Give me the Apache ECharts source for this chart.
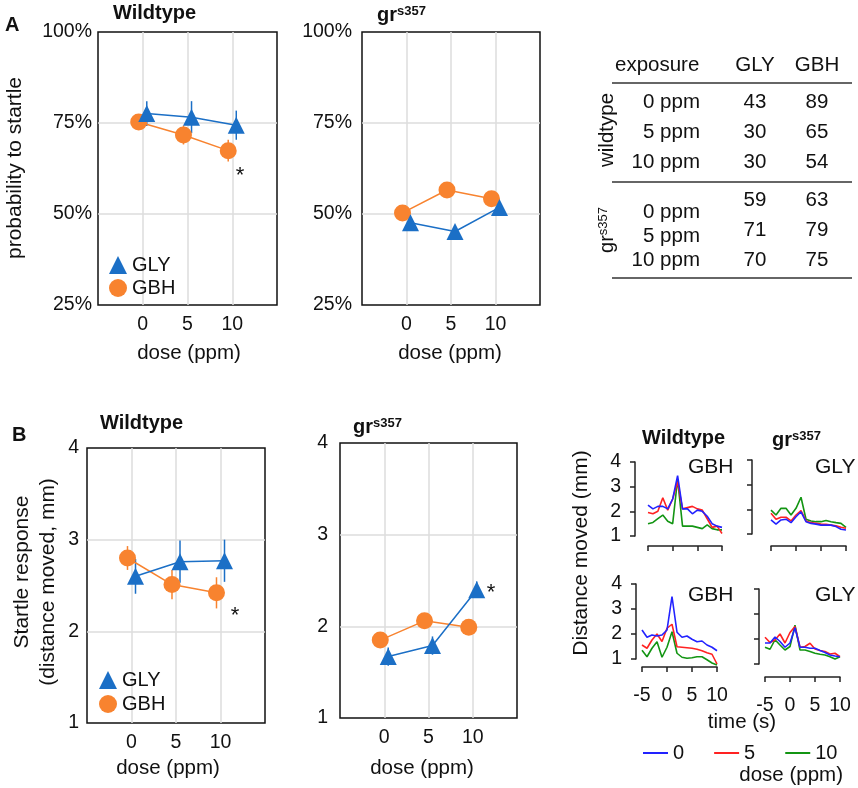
<!DOCTYPE html>
<html>
<head>
<meta charset="utf-8">
<script src="https://cdn.jsdelivr.net/npm/echarts@6/dist/echarts.min.js"></script>
<style>
html,body{margin:0;padding:0;background:#fff}
#main{width:858px;height:788px}
</style>
</head>
<body>
<div id="main"></div>
<script>
let FF = "Liberation Sans, Arial, sans-serif";
let BLUE = "#1b6fc6", ORANGE = "#f8832f";

let doses = [0, 5, 10];
// A: probability to startle (%)
let aWtGly = [77.6, 76.6, 74.4];
let aWtGlyErr = [3.4, 4.4, 4.0];
let aWtGbh = [75.3, 71.7, 67.4];
let aWtGbhErr = [1.5, 2.6, 3.0];
let aGrGly = [47.6, 45.2, 51.8];
let aGrGlyErr = [1.6, 1.6, 1.4];
let aGrGbh = [50.3, 56.6, 54.2];
let aGrGbhErr = [1.4, 1.3, 1.2];
// B: startle response (distance moved, mm)
let bWtGly = [2.6, 2.76, 2.77];
let bWtGlyErr = [0.19, 0.23, 0.23];
let bWtGbh = [2.8, 2.51, 2.42];
let bWtGbhErr = [0.13, 0.16, 0.17];
let bGrGly = [1.67, 1.79, 2.4];
let bGrGlyErr = [0.1, 0.1, 0.09];
let bGrGbh = [1.85, 2.06, 1.99];
let bGrGbhErr = [0.07, 0.07, 0.07];

// table (larvae per group)
let tableDoses = ["0 ppm", "5 ppm", "10 ppm"];
let tabWtGly = [43, 30, 30];
let tabWtGbh = [89, 65, 54];
let tabGrGly = [59, 71, 70];
let tabGrGbh = [63, 79, 75];

// traces, distance moved (mm) per second
let time = [-5, -4, -3, -2, -1, 0, 1, 2, 3, 4, 5, 6, 7, 8, 9, 10];
let topLeft0  = [2.25, 2.1, 2.2, 2.2, 2.1, 2.5, 3.45, 2.1, 2.1, 1.9, 2.05, 2.0, 1.8, 1.5, 1.4, 1.35];
let topLeft5  = [1.95, 1.9, 2.0, 2.55, 2.05, 2.5, 3.2, 2.1, 2.15, 2.2, 2.1, 2.05, 1.7, 1.35, 1.4, 1.1];
let topLeft10 = [1.5, 1.55, 1.7, 1.85, 1.6, 1.5, 3.3, 1.4, 1.4, 1.4, 1.35, 1.3, 1.45, 1.3, 1.25, 1.25];
let topRight0  = [1.57, 1.4, 1.57, 1.6, 1.46, 1.7, 1.9, 1.5, 1.43, 1.4, 1.36, 1.36, 1.36, 1.3, 1.19, 1.16];
let topRight5  = [1.84, 1.6, 1.68, 1.68, 1.53, 1.77, 1.95, 1.53, 1.46, 1.43, 1.4, 1.39, 1.36, 1.33, 1.27, 1.23];
let topRight10 = [1.97, 1.77, 2.04, 2.04, 1.77, 2.04, 2.49, 1.6, 1.53, 1.5, 1.5, 1.55, 1.5, 1.46, 1.43, 1.27];
let botLeft0  = [2.16, 1.87, 1.96, 1.92, 1.96, 2.16, 3.5, 2.07, 1.87, 1.92, 1.79, 1.69, 1.72, 1.56, 1.47, 1.33];
let botLeft5  = [1.56, 1.43, 1.76, 2.0, 1.7, 2.23, 2.39, 1.49, 1.47, 1.45, 1.43, 1.39, 1.33, 1.25, 1.19, 0.8];
let botLeft10 = [1.35, 1.09, 1.43, 1.69, 1.07, 1.47, 2.09, 1.23, 1.07, 1.03, 1.05, 1.09, 1.09, 0.97, 0.84, 0.76];
let botRight0  = [1.84, 1.84, 2.08, 1.9, 1.67, 1.84, 2.45, 1.67, 1.67, 1.63, 1.63, 1.54, 1.46, 1.36, 1.32, 1.29];
let botRight5  = [2.07, 1.86, 1.96, 2.2, 1.84, 2.26, 2.5, 1.67, 1.7, 1.83, 1.6, 1.54, 1.5, 1.4, 1.43, 1.29];
let botRight10 = [1.67, 1.59, 1.97, 1.76, 1.56, 1.7, 2.55, 1.56, 1.56, 1.5, 1.43, 1.39, 1.36, 1.29, 1.2, 1.29];
let traceColors = {"0": "#2222ff", "5": "#ff2222", "10": "#139513"};

let myEcharts = echarts.init(document.getElementById("main"));

// main panels
let grids = [
    {left: 98, top: 32, width: 179, height: 273},
    {left: 362, top: 32, width: 178, height: 273},
    {left: 87, top: 448, width: 178, height: 275},
    {left: 340, top: 443, width: 177, height: 275},
    {left: 648, top: 462, width: 74, height: 74},
    {left: 771, top: 460, width: 75, height: 74},
    {left: 642, top: 584, width: 75, height: 75},
    {left: 765, top: 589, width: 75, height: 75}
];
grids.forEach(function (g, i) {
    if (i < 4) {
        g.show = true;
        g.borderColor = "#111";
        g.borderWidth = 1.5;
    }
});

let splitStyle = {show: true, showMinLine: false, showMaxLine: false, lineStyle: {color: "#dcdcdc", width: 1.5}};
let xAxes = [], yAxes = [];
[0, 1, 2, 3].forEach(function (gi) {
    xAxes.push({
        gridIndex: gi, type: "value", min: -5, max: 15, interval: 5,
        axisLine: {show: false}, axisTick: {show: false}, splitLine: splitStyle,
        axisLabel: {fontSize: 19.5, color: "#111", fontFamily: FF, margin: 10,
            formatter: function (v) { return (v >= 0 && v <= 10) ? String(v) : ""; }}
    });
    let isA = gi < 2;
    yAxes.push({
        gridIndex: gi, type: "value",
        min: isA ? 25 : 1, max: isA ? 100 : 4, interval: isA ? 25 : 1,
        axisLine: {show: false}, axisTick: {show: false}, splitLine: splitStyle,
        axisLabel: {fontSize: 19.5, color: "#111", fontFamily: FF, margin: [6, 10, 8, 12][gi],
            formatter: isA ? "{value}%" : "{value}"}
    });
});
// small trace panels
let smallCfg = [
    {gi: 4, yOff: 13, xOff: 10, yLab: true, xLab: false},
    {gi: 5, yOff: 19, xOff: 12, yLab: false, xLab: false},
    {gi: 6, yOff: 6, xOff: 8, yLab: true, xLab: true},
    {gi: 7, yOff: 6, xOff: 13, yLab: false, xLab: true}
];
smallCfg.forEach(function (c) {
    let line = {show: true, onZero: false, lineStyle: {color: "#222", width: 1.5}};
    let tick = {show: true, length: 5, lineStyle: {color: "#222", width: 1.5}};
    xAxes.push({
        gridIndex: c.gi, type: "value", min: -5, max: 10, interval: 5, offset: c.xOff,
        axisLine: line, axisTick: tick, splitLine: {show: false},
        axisLabel: {show: c.xLab, fontSize: 19.5, color: "#111", fontFamily: FF, margin: 19}
    });
    yAxes.push({
        gridIndex: c.gi, type: "value", min: 1, max: 4, interval: 1, offset: c.yOff,
        axisLine: line, axisTick: tick, splitLine: {show: false},
        axisLabel: {show: c.yLab, fontSize: 19.5, color: "#111", fontFamily: FF, margin: 14}
    });
});

let series = [];
function errBars(gi, shift, vals, errs, color) {
    return {
        type: "custom", xAxisIndex: gi, yAxisIndex: gi, z: 2, silent: true,
        data: doses.map(function (d, i) { return [d + shift, vals[i] - errs[i], vals[i] + errs[i]]; }),
        encode: {x: 0, y: [1, 2]},
        renderItem: function (params, api) {
            let lo = api.coord([api.value(0), api.value(1)]);
            let hi = api.coord([api.value(0), api.value(2)]);
            return {type: "line", shape: {x1: lo[0], y1: lo[1], x2: hi[0], y2: hi[1]},
                style: {stroke: color, lineWidth: 1.5}};
        }
    };
}
function doseLine(gi, name, shift, vals, color, symbol, z) {
    return {
        type: "line", name: name, xAxisIndex: gi, yAxisIndex: gi, z: z,
        data: doses.map(function (d, i) { return [d + shift, vals[i]]; }),
        symbol: symbol, symbolSize: 17,
        lineStyle: {width: 1.5, color: color}, itemStyle: {color: color}
    };
}
let mainSets = [
    [aWtGbh, aWtGbhErr, aWtGly, aWtGlyErr],
    [aGrGbh, aGrGbhErr, aGrGly, aGrGlyErr],
    [bWtGbh, bWtGbhErr, bWtGly, bWtGlyErr],
    [bGrGbh, bGrGbhErr, bGrGly, bGrGlyErr]
];
mainSets.forEach(function (s, gi) {
    series.push(errBars(gi, -0.45, s[0], s[1], ORANGE));
    series.push(doseLine(gi, "GBH", -0.45, s[0], ORANGE, "circle", 3));
    series.push(errBars(gi, 0.45, s[2], s[3], BLUE));
    series.push(doseLine(gi, "GLY", 0.45, s[2], BLUE, "triangle", 4));
});
let traceSets = [
    [topLeft0, topLeft5, topLeft10],
    [topRight0, topRight5, topRight10],
    [botLeft0, botLeft5, botLeft10],
    [botRight0, botRight5, botRight10]
];
traceSets.forEach(function (s, k) {
    ["0", "5", "10"].forEach(function (name, j) {
        series.push({
            type: "line", name: name, xAxisIndex: 4 + k, yAxisIndex: 4 + k,
            data: time.map(function (t, i) { return [t, s[j][i]]; }),
            symbol: "none", clip: false, z: 3 + (j === 0 ? 2 : j === 1 ? 1 : 0),
            lineStyle: {width: 1.6, color: traceColors[name]}, itemStyle: {color: traceColors[name]}
        });
    });
});

// text helpers
function T(x, y, text, o) {
    o = o || {};
    let st = {text: text, fontSize: o.size || 20, fontWeight: o.bold ? "bold" : "normal",
        fontFamily: FF, fill: "#111", textAlign: o.align || "left", textVerticalAlign: "middle"};
    if (o.rich) st.rich = o.rich;
    return {type: "text", x: x, y: y, rotation: o.rot || 0, silent: true, style: st};
}
let supRich = {
    g: {fontSize: 20, fontWeight: "bold", fontFamily: FF, fill: "#111"},
    s: {fontSize: 13, fontWeight: "bold", fontFamily: FF, fill: "#111", verticalAlign: "top"}
};
let supRichPlain = {
    g: {fontSize: 20, fontFamily: FF, fill: "#111"},
    s: {fontSize: 13, fontFamily: FF, fill: "#111", verticalAlign: "top"}
};
function L(x1, y1, x2, y2) {
    return {type: "line", silent: true, shape: {x1: x1, y1: y1, x2: x2, y2: y2},
        style: {stroke: "#333", lineWidth: 1.5}};
}
let R = Math.PI / 2;
let graphics = [
    T(5, 25, "A", {bold: true}),
    T(113, 13, "Wildtype", {bold: true}),
    T(377, 15, "{g|gr}{s|s357}", {rich: supRich}),
    T(15, 168, "probability to startle", {rot: R, align: "center", size: 21}),
    T(189, 353, "dose (ppm)", {align: "center", size: 20.5}),
    T(450, 353, "dose (ppm)", {align: "center", size: 20.5}),
    T(240, 176, "*", {align: "center", size: 22}),

    T(12, 435, "B", {bold: true}),
    T(100, 423, "Wildtype", {bold: true}),
    T(353, 427, "{g|gr}{s|s357}", {rich: supRich}),
    T(22, 572, "Startle response", {rot: R, align: "center", size: 21}),
    T(48, 582, "(distance moved, mm)", {rot: R, align: "center", size: 21}),
    T(168, 768, "dose (ppm)", {align: "center", size: 20.5}),
    T(422, 768, "dose (ppm)", {align: "center", size: 20.5}),
    T(235, 616, "*", {align: "center", size: 22}),
    T(491, 593, "*", {align: "center", size: 22}),

    T(642, 438, "Wildtype", {bold: true}),
    T(772, 440, "{g|gr}{s|s357}", {rich: supRich}),
    T(688, 467, "GBH", {size: 21}),
    T(815, 467, "GLY", {size: 21}),
    T(688, 595, "GBH", {size: 21}),
    T(815, 595, "GLY", {size: 21}),
    T(581, 553, "Distance moved (mm)", {rot: R, align: "center", size: 21}),
    T(742, 722, "time (s)", {align: "center", size: 20.5}),
    T(843, 775, "dose (ppm)", {align: "right", size: 20.5}),

    // table
    T(615, 65, "exposure", {size: 20.5}),
    T(755, 65, "GLY", {align: "center", size: 20.5}),
    T(817, 65, "GBH", {align: "center", size: 20.5}),
    L(612, 83, 852, 83),
    L(612, 182, 852, 182),
    L(612, 278, 852, 278),
    T(607, 130, "wildtype", {rot: R, align: "center", size: 20.5}),
    T(607, 230, "{g|gr}{s|s357}", {rot: R, align: "center", rich: supRichPlain})
];
let wtRowY = [102, 132, 162], grLabY = [212, 236, 260], grValY = [200, 230, 260];
tableDoses.forEach(function (d, i) {
    graphics.push(T(700, wtRowY[i], d, {align: "right", size: 20.5}));
    graphics.push(T(755, wtRowY[i], String(tabWtGly[i]), {align: "center", size: 20.5}));
    graphics.push(T(817, wtRowY[i], String(tabWtGbh[i]), {align: "center", size: 20.5}));
    graphics.push(T(700, grLabY[i], d, {align: "right", size: 20.5}));
    graphics.push(T(755, grValY[i], String(tabGrGly[i]), {align: "center", size: 20.5}));
    graphics.push(T(817, grValY[i], String(tabGrGbh[i]), {align: "center", size: 20.5}));
});

let legendText = {fontSize: 20, color: "#111", fontFamily: FF};
let option = {
    animation: false,
    backgroundColor: "#fff",
    textStyle: {fontFamily: FF},
    grid: grids,
    xAxis: xAxes,
    yAxis: yAxes,
    legend: [
        {data: [{name: "GLY", icon: "triangle"}, {name: "GBH", icon: "circle"}],
            left: 109, top: 255, orient: "vertical", itemWidth: 18, itemHeight: 18, itemGap: 3,
            padding: 0, selectedMode: false, textStyle: legendText},
        {data: [{name: "GLY", icon: "triangle"}, {name: "GBH", icon: "circle"}],
            left: 99, top: 670, orient: "vertical", itemWidth: 18, itemHeight: 18, itemGap: 4,
            padding: 0, selectedMode: false, textStyle: legendText},
        {data: ["0", "5", "10"], left: 643, top: 743, icon: "rect", itemWidth: 25, itemHeight: 2,
            itemGap: 30, padding: 0, selectedMode: false, textStyle: legendText}
    ],
    graphic: graphics,
    series: series
};
myEcharts.setOption(option);
</script>
</body>
</html>
